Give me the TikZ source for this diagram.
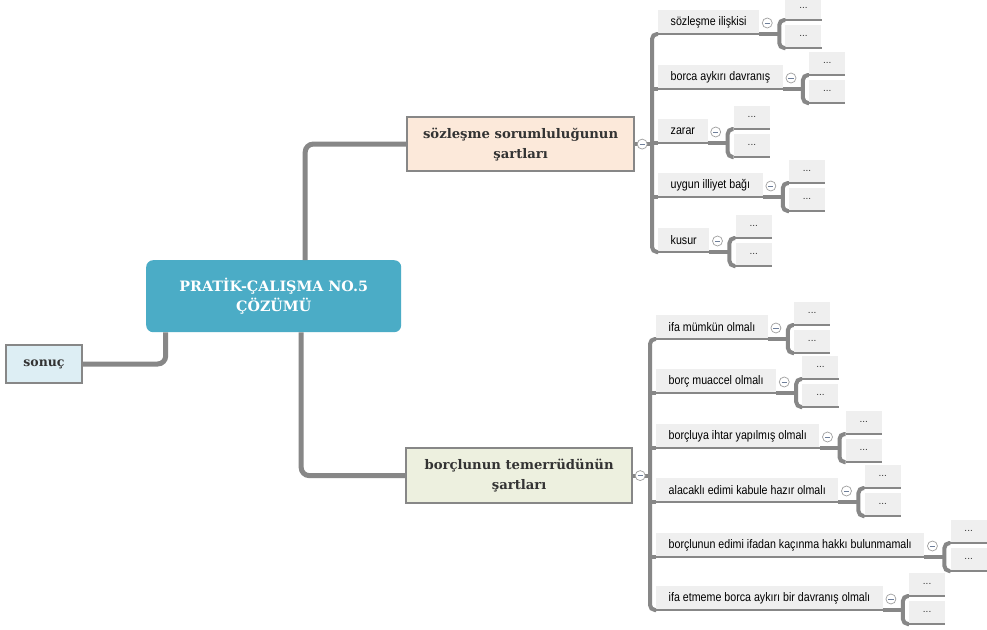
\documentclass[tikz,border=0pt]{standalone}
\usepackage{fontspec}
\setmainfont{Liberation Sans}
\newfontfamily\narrowsans[FakeStretch=0.86]{Liberation Sans}
\newfontfamily\slab{DejaVu Serif}
\usetikzlibrary{calc}
\definecolor{linegray}{HTML}{878787}
\definecolor{boxgray}{HTML}{EFEFEF}
\definecolor{centralfill}{HTML}{4BACC6}
\definecolor{peach}{HTML}{FCE9DA}
\definecolor{olive}{HTML}{EDF0DF}
\definecolor{skyfill}{HTML}{DDEEF4}
\definecolor{minuscol}{HTML}{6F7F9A}
\definecolor{darktext}{HTML}{333333}
\tikzset{
  central/.style={rectangle, rounded corners=7pt, fill=centralfill, text=white, align=center,
    font=\slab\bfseries\fontsize{14.3}{19.5}\selectfont, minimum width=255pt, minimum height=72pt, anchor=north west},
  branch/.style={rectangle, draw=linegray, line width=2.2pt, text=darktext, align=center,
    font=\slab\bfseries\fontsize{13.2}{20}\selectfont, anchor=north west},
  subbox/.style={rectangle, fill=boxgray, inner xsep=12.5pt, inner ysep=0pt, minimum height=23.5pt,
    font=\narrowsans\fontsize{12.4}{13}\selectfont, text=black, anchor=south west},
  dotbox/.style={rectangle, fill=boxgray, inner sep=0pt, minimum width=36pt, minimum height=23pt,
    font=\fontsize{10}{10}\selectfont, text=darktext, anchor=south west},
  collapse/.style={circle, draw=linegray!80, fill=white, line width=0.7pt, inner sep=0pt, minimum size=10pt,
    path picture={\draw[minuscol, line width=0.9pt] ([xshift=-2.6pt]path picture bounding box.center) -- ([xshift=2.6pt]path picture bounding box.center);}},
  mainline/.style={draw=linegray, line width=5pt, rounded corners=8pt},
  brline/.style={draw=linegray, line width=4pt, rounded corners=5pt},
  uline/.style={draw=linegray, line width=2pt},
  dline/.style={draw=linegray, line width=1.4pt},
}
\newcommand\subbr[4]{%
  \node[subbox] (#1) at (#2,#3) {#4};
  \node[dotbox] (#1a) at ($(#1.south east)+(26,-14)$) {...};
  \node[dotbox] (#1b) at ($(#1.south east)+(26,14)$) {...};
  \draw[dline] (#1a.south west) -- (#1a.south east);
  \draw[dline] (#1b.south west) -- (#1b.south east);
  \draw[uline] (#1.south west) -- (#1.south east);
  \draw[brline, rounded corners=0pt] (#1.south east) -- ++(20.5,0);
  \draw[brline] (#1a.south west) -- ++(-6,0) |- (#1b.south west);
  \node[collapse] (#1k) at ($(#1.south east)+(8,-11)$) {};
}
\begin{document}
\begin{tikzpicture}[x=1pt,y=-1pt]
\useasboundingbox[fill=white] (0,0) rectangle (987,629);

% main nodes
\node[central] (c) at (146,260) {PRATİK-ÇALIŞMA NO.5\\ÇÖZÜMÜ};
\node[branch, fill=peach, minimum width=227pt, minimum height=54pt] (t) at (406,116) {sözleşme sorumluluğunun\\şartları};
\node[branch, fill=olive, minimum width=226pt, minimum height=55pt] (b) at (405,447) {borçlunun temerrüdünün\\şartları};
\node[branch, fill=skyfill, line width=2pt, minimum width=76pt, minimum height=38pt, font=\slab\bfseries\fontsize{12.5}{14}\selectfont] (s) at (5,344) {sonuç};

% main connectors
\draw[mainline] ([xshift=31.5pt]c.north) |- (t.west);
\draw[mainline] ([xshift=27.5pt]c.south) |- (b.west);
\draw[mainline] ([xshift=-108pt]c.south) |- (s.east);

% top subbranches
\subbr{ts1}{658}{34}{sözleşme ilişkisi}
\subbr{ts2}{658}{89}{borca aykırı davranış}
\subbr{ts3}{658}{143}{zarar}
\subbr{ts4}{658}{197}{uygun illiyet bağı}
\subbr{ts5}{658}{252}{kusur}
\draw[brline] (ts1.south west) -- ++(-6,0) |- (ts5.south west);
\foreach \n in {ts2,ts3,ts4} \draw[brline] (\n.south west) -- ++(-6,0);
\draw[brline, rounded corners=0pt] (t.east) -- ($(t.east -| ts1.south west)+(-6,0)$);
\node[collapse] (tk) at ($(t.east)+(7,0)$) {};

% bottom subbranches
\subbr{bs1}{656}{339}{ifa mümkün olmalı}
\subbr{bs2}{656}{393}{borç muaccel olmalı}
\subbr{bs3}{656}{448}{borçluya ihtar yapılmış olmalı}
\subbr{bs4}{656}{502}{alacaklı edimi kabule hazır olmalı}
\subbr{bs5}{656}{557}{borçlunun edimi ifadan kaçınma hakkı bulunmamalı}
\subbr{bs6}{656}{610}{ifa etmeme borca aykırı bir davranış olmalı}
\draw[brline] (bs1.south west) -- ++(-6,0) |- (bs6.south west);
\foreach \n in {bs2,bs3,bs4,bs5} \draw[brline] (\n.south west) -- ++(-6,0);
\draw[brline, rounded corners=0pt] (b.east) -- ($(b.east -| bs1.south west)+(-6,0)$);
\node[collapse] (bk) at ($(b.east)+(7,0)$) {};
\end{tikzpicture}
\end{document}
